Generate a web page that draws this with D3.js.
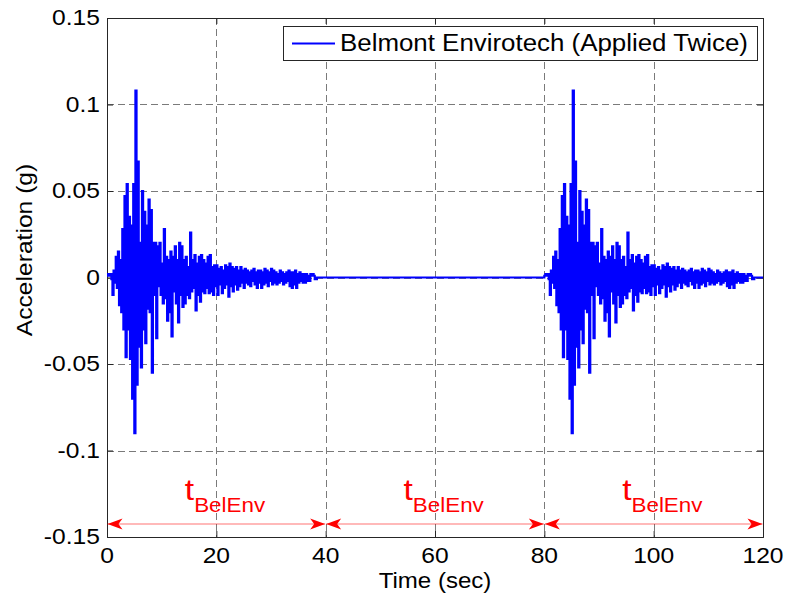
<!DOCTYPE html>
<html><head><meta charset="utf-8">
<script src="https://cdn.jsdelivr.net/npm/d3@7"></script>
<style>body{margin:0;background:#fff}svg{display:block}</style>
</head><body><svg id="c" width="789" height="601"></svg>
<script>
// ---- data ----
const dt = 0.2; // seconds between samples of the record
const recordValues = [
 0.001, 0.002, 0.001, 0.002,-0.001,-0.010, 0.004,-0.003, 0.012,-0.006,
 0.015,-0.016, 0.010,-0.020, 0.028,-0.030, 0.047,-0.046, 0.054,-0.030,
 0.035,-0.047, 0.030,-0.070, 0.054,-0.090, 0.108,-0.062, 0.067,-0.040,
 0.020,-0.052, 0.050,-0.030, 0.038,-0.038, 0.030,-0.018, 0.045,-0.020,
 0.039,-0.055, 0.020,-0.010, 0.020,-0.035, 0.018,-0.005, 0.020,-0.010,
 0.008,-0.015, 0.028,-0.012, 0.012,-0.025, 0.010,-0.020, 0.015,-0.034,
 0.012,-0.008, 0.018,-0.015, 0.010,-0.026, 0.020,-0.010, 0.018,-0.017,
 0.010,-0.015, 0.012,-0.010, 0.006,-0.012, 0.026,-0.008, 0.010,-0.006,
 0.013,-0.019, 0.008,-0.010, 0.012,-0.014, 0.013,-0.008, 0.010,-0.009,
 0.008,-0.006, 0.012,-0.009, 0.013,-0.008, 0.006,-0.010, 0.007,-0.005,
 0.007,-0.010, 0.005,-0.004, 0.006,-0.009, 0.004,-0.006, 0.007,-0.004,
 0.006,-0.011, 0.008,-0.005, 0.006,-0.008, 0.005,-0.004, 0.006,-0.007,
 0.004,-0.005, 0.006,-0.003, 0.004,-0.006, 0.005,-0.003, 0.004,-0.004,
 0.003,-0.005, 0.004,-0.002, 0.005,-0.004, 0.003,-0.006, 0.004,-0.003,
 0.004,-0.006, 0.003,-0.004, 0.005,-0.003, 0.004,-0.005, 0.003,-0.002,
 0.005,-0.004, 0.004,-0.003, 0.003,-0.004, 0.002,-0.003, 0.004,-0.002,
 0.003,-0.004, 0.002,-0.003, 0.003,-0.002, 0.004,-0.005, 0.003,-0.006,
 0.003,-0.004, 0.004,-0.006, 0.002,-0.003, 0.003,-0.002, 0.002,-0.003,
 0.002,-0.003, 0.002,-0.002, 0.001,-0.002, 0.002, 0.001, 0.002, 0.001,
-0.001,-0.001, 0.000, 0.000, 0.000, 0.000, 0.000, 0.000, 0.000, 0.000
];
const applyStarts = [0, 80];          // the record is applied twice
const xTicks = [0, 20, 40, 60, 80, 100, 120];
const xTickLabels = ["0", "20", "40", "60", "80", "100", "120"];
const yTicks = [-0.15, -0.1, -0.05, 0, 0.05, 0.1, 0.15];
const yTickLabels = ["-0.15", "-0.1", "-0.05", "0", "0.05", "0.1", "0.15"];
const spans = [[0, 40], [40, 80], [80, 120]];
const spanLabelMain = "t";
const spanLabelSub = "BelEnv";
const legendLabel = "Belmont Envirotech (Applied Twice)";
const xTitle = "Time (sec)";
const yTitle = "Acceleration (g)";

// ---- layout ----
const L = 107, R = 763, T = 18, B = 537;
const svg = d3.select("#c");
const x = d3.scaleLinear().domain([0, 120]).range([L, R]);
const y = d3.scaleLinear().domain([-0.15, 0.15]).range([B, T]);
const FONT = "'Liberation Sans', Arial, Helvetica, sans-serif";
const SX = 1.12;

const series = [];
applyStarts.forEach(s => recordValues.forEach((v, i) => series.push([s + i * dt, v])));
series.push([120, 0]);

svg.append("rect").attr("width", 789).attr("height", 601).attr("fill", "#fff");

// grid
const grid = svg.append("g").attr("stroke", "#7a7a7a").attr("stroke-width", 1)
  .attr("stroke-dasharray", "7,4").attr("shape-rendering", "crispEdges");
grid.selectAll(".gx").data(xTicks.slice(1, -1)).join("line")
  .attr("x1", d => Math.round(x(d)) + 0.5).attr("x2", d => Math.round(x(d)) + 0.5)
  .attr("y1", T).attr("y2", B);
grid.selectAll(".gy").data(yTicks.slice(1, -1)).join("line")
  .attr("y1", d => Math.round(y(d)) + 0.5).attr("y2", d => Math.round(y(d)) + 0.5)
  .attr("x1", L).attr("x2", R);

// axes (MATLAB-style box with inward ticks on all sides)
const tk = 6;
const axB = d3.axisBottom(x).tickValues(xTicks).tickSize(-tk).tickFormat("");
const axT = d3.axisTop(x).tickValues(xTicks).tickSize(-tk).tickFormat("");
const axL = d3.axisLeft(y).tickValues(yTicks).tickSize(-tk).tickFormat("");
const axR = d3.axisRight(y).tickValues(yTicks).tickSize(-tk).tickFormat("");
[[axB, `translate(0,${B})`], [axT, `translate(0,${T})`], [axL, `translate(${L},0)`], [axR, `translate(${R},0)`]]
  .forEach(([a, tr]) => {
    const g = svg.append("g").attr("transform", tr).call(a);
    g.selectAll("path,line").attr("stroke", "#262626");
  });

// signal line (blocky, like the downsampled reference trace)
svg.append("path").datum(series)
  .attr("fill", "none").attr("stroke", "#0000ff").attr("stroke-width", 2.2)
  .attr("d", d3.line().curve(d3.curveStepAfter).x(d => x(d[0])).y(d => y(d[1])));

function txt(px, py, s, size, anchor, color) {
  return svg.append("text")
    .attr("transform", `translate(${px},${py}) scale(${SX},1)`)
    .attr("font-family", FONT).attr("font-size", size)
    .attr("text-anchor", anchor).attr("fill", color || "#000").text(s);
}

// tick labels
xTicks.forEach((d, i) => txt(x(d), 563, xTickLabels[i], 22, "middle"));
yTicks.forEach((d, i) => txt(100, y(d) + 7, yTickLabels[i], 22, "end"));

// axis titles
txt(435, 588, xTitle, 21.5, "middle");
svg.append("text")
  .attr("transform", `translate(32,250) rotate(-90) scale(${SX},1)`)
  .attr("font-family", FONT).attr("font-size", 22).attr("text-anchor", "middle")
  .attr("fill", "#000").text(yTitle);

// red span arrows
const red = "#ff0000";
const ay = 524;
const arr = svg.append("g");
spans.forEach(([a, b]) => {
  const x0 = x(a) + 0.5, x1 = x(b) - 0.5;
  arr.append("line").attr("x1", x0).attr("x2", x1).attr("y1", ay).attr("y2", ay)
    .attr("stroke", red).attr("stroke-opacity", 0.55).attr("stroke-width", 1.2);
  arr.append("path").attr("fill", red)
    .attr("d", `M${x0},${ay} L${x0 + 15},${ay - 5.5} L${x0 + 11},${ay} L${x0 + 15},${ay + 5.5} Z`);
  arr.append("path").attr("fill", red)
    .attr("d", `M${x1},${ay} L${x1 - 15},${ay - 5.5} L${x1 - 11},${ay} L${x1 - 15},${ay + 5.5} Z`);
  const mx = x((a + b) / 2);
  const t = svg.append("text")
    .attr("transform", `translate(${mx - 31.5},500) scale(${SX},1)`)
    .attr("font-family", FONT).attr("fill", red);
  t.append("tspan").attr("font-size", 30).text(spanLabelMain);
  t.append("tspan").attr("font-size", 20).attr("dy", 12).text(spanLabelSub);
});

// legend
const lg = svg.append("g");
lg.append("rect").attr("x", 283.5).attr("y", 26.5).attr("width", 474).attr("height", 34)
  .attr("fill", "#fff").attr("stroke", "#262626").attr("stroke-width", 1);
lg.append("line").attr("x1", 292).attr("x2", 335).attr("y1", 43.5).attr("y2", 43.5)
  .attr("stroke", "#0000ff").attr("stroke-width", 2);
svg.append("text")
  .attr("x", 340).attr("y", 51)
  .attr("font-family", FONT).attr("font-size", 23)
  .attr("textLength", 408).attr("lengthAdjust", "spacingAndGlyphs")
  .attr("fill", "#000").text(legendLabel);
</script></body></html>
